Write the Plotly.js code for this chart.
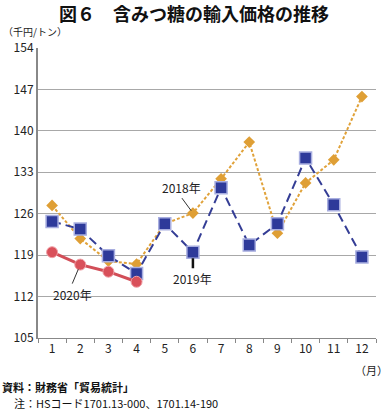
<!DOCTYPE html>
<html><head><meta charset="utf-8">
<script src="https://cdn.plot.ly/plotly-3.0.1.min.js"></script>
<style>html,body{margin:0;padding:0;background:#fff;}#chart{width:388px;height:411px;}</style>
</head><body><div id="chart"></div>
<script>
const months = ['1','2','3','4','5','6','7','8','9','10','11','12'];
const v2018 = [127.4,121.8,118.0,117.5,124.3,126.1,131.9,138.1,122.7,131.2,135.1,145.8];
const v2019 = [124.7,123.4,118.9,115.9,124.3,119.5,130.4,120.7,124.3,135.4,127.5,118.7];
const months2020 = ['1','2','3','4'];
const v2020 = [119.5,117.4,116.2,114.5];
const yTicks = [105,112,119,126,133,140,147,154];

const FONT = '"Noto Sans CJK JP", "Noto Sans", sans-serif';
const traces = [
  {x: months, y: v2018, type:'scatter', mode:'lines+markers', name:'2018年',
   line:{color:'#E0A23A', width:2, dash:'3px,2px'},
   marker:{symbol:'diamond', size:9, color:'#DF9F35'}},
  {x: months, y: v2019, type:'scatter', mode:'lines+markers', name:'2019年',
   line:{color:'#343D95', width:2, dash:'9px,5px'},
   marker:{symbol:'square', size:12, color:'#2E3A9A', line:{color:'#A8AEE0', width:1.5}}},
  {x: months2020, y: v2020, type:'scatter', mode:'lines+markers', name:'2020年',
   line:{color:'#D24E58', width:3},
   marker:{symbol:'circle', size:11, color:'#D9505A', line:{color:'#F0A0A6', width:1}}}
];
const idx6 = months.indexOf('6');
const idx2 = months.indexOf('2');

const layout = {
  width:388, height:411,
  margin:{l:38, r:12, t:48, b:73},
  paper_bgcolor:'#fff', plot_bgcolor:'#fff',
  showlegend:false,
  font:{family:FONT, size:12, color:'#222'},
  title:{text:'図６　含みつ糖の輸入価格の推移', x:0.5, xanchor:'center', y:0.965, yanchor:'middle',
         font:{family:FONT, size:18, color:'#111', weight:700}},
  xaxis:{type:'category', categoryorder:'array', categoryarray:months,
         range:[-0.5,11.5], showgrid:false, showline:true, linecolor:'#888', linewidth:1,
         ticks:'outside', tickson:'boundaries', ticklen:4, tickcolor:'#888',
         tickfont:{size:12, color:'#222', family:FONT}, fixedrange:true},
  yaxis:{range:[105,154], tickvals:yTicks, ticktext:yTicks.map(String),
         showgrid:true, gridcolor:'#A8A8A8', gridwidth:1, showline:true, linecolor:'#888', linewidth:2,
         ticks:'', zeroline:false, tickfont:{size:12, color:'#222', family:FONT}, fixedrange:true},
  annotations:[
    {xref:'paper', yref:'paper', x:-0.11, y:1.058, xanchor:'left', yanchor:'middle', showarrow:false,
     text:'（千円/トン）', font:{size:10, color:'#222'}},
    {xref:'paper', yref:'paper', x:1.04, y:-0.075, xanchor:'right', yanchor:'top', showarrow:false,
     text:'（月）', font:{size:11, color:'#222'}},
    {xref:'paper', yref:'paper', x:-0.113, y:-0.135, xanchor:'left', yanchor:'top', showarrow:false,
     text:'<b>資料：財務省「貿易統計」</b>', font:{size:11, color:'#111'}},
    {xref:'paper', yref:'paper', x:-0.078, y:-0.19, xanchor:'left', yanchor:'top', showarrow:false,
     text:'注：HSコード1701.13-000、1701.14-190', font:{size:11, color:'#111'}},
    {x:idx6, y:v2018[idx6], xref:'x', yref:'y', text:'2018年', showarrow:true, arrowhead:0, arrowwidth:1,
     arrowcolor:'#333', ax:-11, ay:-15, standoff:3, xanchor:'center', yanchor:'bottom', font:{size:12, color:'#222'}},
    {x:idx6, y:v2019[idx6], xref:'x', yref:'y', text:'2019年', showarrow:true, arrowhead:0, arrowwidth:2.5,
     arrowcolor:'#111', ax:0, ay:16, standoff:6, yanchor:'top', font:{size:12, color:'#222'}},
    {x:idx2, y:v2020[idx2], xref:'x', yref:'y', text:'2020年', showarrow:true, arrowhead:0, arrowwidth:1,
     arrowcolor:'#333', ax:-8, ay:19, standoff:5, yanchor:'top', font:{size:12, color:'#222'}}
  ]
};
Plotly.newPlot('chart', traces, layout, {staticPlot:true, displayModeBar:false});
</script></body></html>
